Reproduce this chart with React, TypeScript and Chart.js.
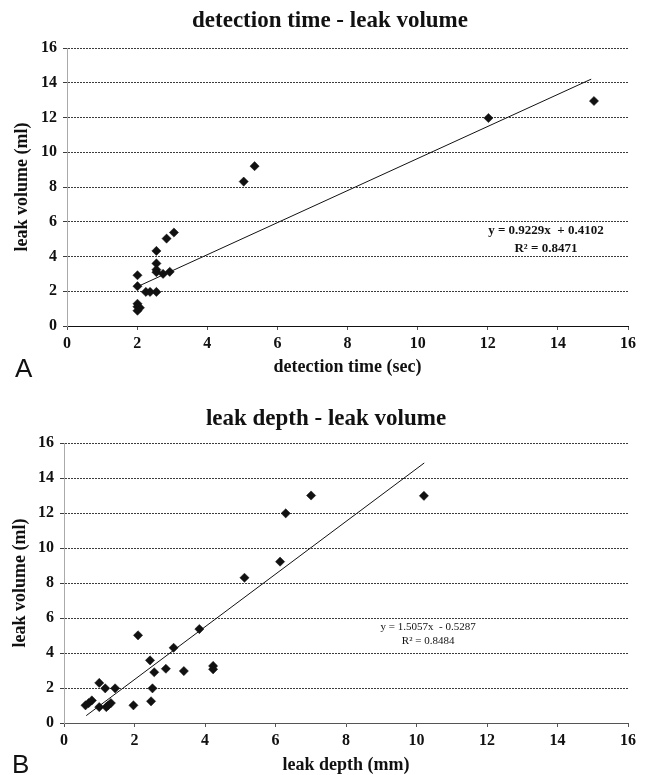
import React, { useEffect, useRef } from "react";
import { Chart, registerables } from "chart.js";

Chart.register(...registerables);

// ---- Data ----
const timeSec = [2.01, 2.01, 2.25, 2.37, 2.55, 2.01, 2.01, 2.08, 2.01, 2.55, 2.55, 2.55, 2.55, 2.74, 2.93, 2.84, 3.05, 5.04, 5.35, 12.02, 15.03];
const timeVolume = [2.92, 2.29, 1.96, 1.96, 1.96, 1.28, 1.11, 1.05, 0.88, 4.32, 3.6, 3.24, 3.1, 3.0, 3.12, 5.03, 5.38, 8.31, 9.2, 11.97, 12.95];

const depthMm = [0.61, 0.7, 0.79, 1.0, 1.0, 1.17, 1.2, 1.25, 1.33, 1.45, 1.97, 2.1, 2.44, 2.47, 2.51, 2.56, 2.89, 3.11, 3.4, 3.84, 4.23, 4.23, 5.12, 6.13, 6.29, 7.01, 10.21];
const depthVolume = [1.01, 1.14, 1.29, 2.29, 0.91, 1.98, 0.91, 1.0, 1.14, 1.98, 1.01, 5.01, 3.58, 1.24, 1.98, 2.9, 3.1, 4.3, 2.97, 5.37, 3.26, 3.07, 8.3, 9.22, 11.98, 13.0, 12.98];

// trend lines: [slope, intercept, xFrom, xTo]
const timeFit = [0.9229, 0.4102, 2.0, 14.95];
const depthFit = [1.5057, -0.5287, 0.63, 10.22];

const timeFitText = ["y = 0.9229x  + 0.4102", "R² = 0.8471"];
const depthFitText = ["y = 1.5057x  - 0.5287", "R² = 0.8484"];
// annotation anchor in data units: [x, yLine1, yLine2]
const timeFitAnchor = [13.66, 5.5, 4.45];
const depthFitAnchor = [10.33, 5.47, 4.67];

const axisMin = 0;
const axisMax = 16;
const axisStep = 2;

type PanelCfg = {
  xs: number[];
  ys: number[];
  fit: number[];
  fitText: string[];
  fitAnchor: number[];
  fitFont: string;
  title: string;
  xTitle: string;
  yTitle: string;
  letter: string;
  height: number;
  left: number;
  top: number;
  xAxisH: number;
  titleX: number;
  titleY: number;
  xTitleY: number;
  yTitleX: number;
  letterX: number;
  letterY: number;
  xBorderColor: string;
  xBorderDash: number[];
};

const SERIF = '"Liberation Serif", "Times New Roman", serif';

function buildConfig(p: PanelCfg): any {
  const points = p.xs.map((x, i) => ({ x, y: p.ys[i] }));
  const [m, b, x0, x1] = p.fit;
  const line = [
    { x: x0, y: m * x0 + b },
    { x: x1, y: m * x1 + b },
  ];

  const decor = {
    id: "decor",
    afterDraw(chart: any) {
      const ctx = chart.ctx as CanvasRenderingContext2D;
      const area = chart.chartArea;
      const xs = chart.scales.x;
      const ys = chart.scales.y;
      ctx.save();
      ctx.fillStyle = "#111";
      // title
      ctx.font = `bold 23px ${SERIF}`;
      ctx.textAlign = "center";
      ctx.textBaseline = "alphabetic";
      ctx.fillText(p.title, p.titleX, p.titleY);
      // x title
      ctx.font = `bold 18px ${SERIF}`;
      ctx.fillText(p.xTitle, (area.left + area.right) / 2, p.xTitleY);
      // y title
      ctx.save();
      ctx.translate(p.yTitleX, (area.top + area.bottom) / 2);
      ctx.rotate(-Math.PI / 2);
      ctx.textBaseline = "middle";
      ctx.fillText(p.yTitle, 0, 0);
      ctx.restore();
      // panel letter
      ctx.font = `26px "Liberation Sans", Arial, sans-serif`;
      ctx.textAlign = "left";
      ctx.textBaseline = "alphabetic";
      ctx.fillText(p.letter, p.letterX, p.letterY);
      // fit annotation
      ctx.font = p.fitFont;
      ctx.textAlign = "center";
      ctx.textBaseline = "middle";
      const ax = xs.getPixelForValue(p.fitAnchor[0]);
      ctx.fillText(p.fitText[0], ax, ys.getPixelForValue(p.fitAnchor[1]));
      ctx.fillText(p.fitText[1], ax, ys.getPixelForValue(p.fitAnchor[2]));
      ctx.restore();
    },
  };

  return {
    type: "scatter",
    data: {
      datasets: [
        {
          data: line,
          showLine: true,
          borderColor: "#111",
          borderWidth: 1,
          pointRadius: 0,
          fill: false,
        },
        {
          data: points,
          pointStyle: "rectRot",
          pointRadius: 4.6,
          backgroundColor: "#111",
          borderColor: "#111",
          borderWidth: 0.5,
        },
      ],
    },
    options: {
      animation: false,
      responsive: false,
      maintainAspectRatio: false,
      layout: { padding: { left: 0, right: 23, top: p.top, bottom: 0 } },
      plugins: {
        legend: { display: false },
        tooltip: { enabled: false },
        title: { display: false },
      },
      scales: {
        x: {
          type: "linear",
          min: axisMin,
          max: axisMax,
          ticks: {
            stepSize: axisStep,
            color: "#111",
            font: { family: SERIF, size: 16, weight: "bold" },
            padding: 4,
            maxRotation: 0,
          },
          grid: {
            drawOnChartArea: false,
            drawTicks: true,
            tickLength: 4,
            color: "#555",
          },
          border: { display: true, color: p.xBorderColor, width: 1, dash: p.xBorderDash },
          afterFit: (s: any) => {
            s.height = p.xAxisH;
          },
        },
        y: {
          type: "linear",
          min: axisMin,
          max: axisMax,
          ticks: {
            stepSize: axisStep,
            color: "#111",
            font: { family: SERIF, size: 16, weight: "bold" },
            padding: 6,
          },
          grid: {
            drawOnChartArea: true,
            drawTicks: true,
            tickLength: 4,
            color: "#3c3c3c",
            lineWidth: 1,
          },
          border: { display: true, color: "#aaaaaa", width: 1, dash: [2, 1] },
          afterFit: (s: any) => {
            s.width = p.left;
          },
        },
      },
    },
    plugins: [decor],
  };
}

function Panel({ cfg }: { cfg: PanelCfg }) {
  const ref = useRef<HTMLCanvasElement>(null);
  useEffect(() => {
    if (!ref.current) return;
    const chart = new Chart(ref.current, buildConfig(cfg));
    return () => chart.destroy();
  }, [cfg]);
  return (
    <canvas
      ref={ref}
      width={651}
      height={cfg.height}
      style={{ display: "block", width: 651, height: cfg.height }}
    />
  );
}

const panelA: PanelCfg = {
  xs: timeSec,
  ys: timeVolume,
  fit: timeFit,
  fitText: timeFitText,
  fitAnchor: timeFitAnchor,
  fitFont: `bold 13px ${SERIF}`,
  title: "detection time - leak volume",
  xTitle: "detection time (sec)",
  yTitle: "leak volume (ml)",
  letter: "A",
  height: 390,
  left: 67,
  top: 48,
  xAxisH: 64,
  titleX: 330,
  titleY: 27,
  xTitleY: 372,
  yTitleX: 22,
  letterX: 15,
  letterY: 377,
  xBorderColor: "#111",
  xBorderDash: [],
};

const panelB: PanelCfg = {
  xs: depthMm,
  ys: depthVolume,
  fit: depthFit,
  fitText: depthFitText,
  fitAnchor: depthFitAnchor,
  fitFont: `11px ${SERIF}`,
  title: "leak depth - leak volume",
  xTitle: "leak depth (mm)",
  yTitle: "leak volume (ml)",
  letter: "B",
  height: 385,
  left: 64,
  top: 53,
  xAxisH: 52,
  titleX: 326,
  titleY: 35,
  xTitleY: 380,
  yTitleX: 20,
  letterX: 12,
  letterY: 383,
  xBorderColor: "#555",
  xBorderDash: [2, 1],
};

export default function App() {
  return (
    <div
      style={{
        position: "absolute",
        left: 0,
        top: 0,
        width: 651,
        height: 775,
        background: "#fff",
      }}
    >
      <Panel cfg={panelA} />
      <Panel cfg={panelB} />
    </div>
  );
}
